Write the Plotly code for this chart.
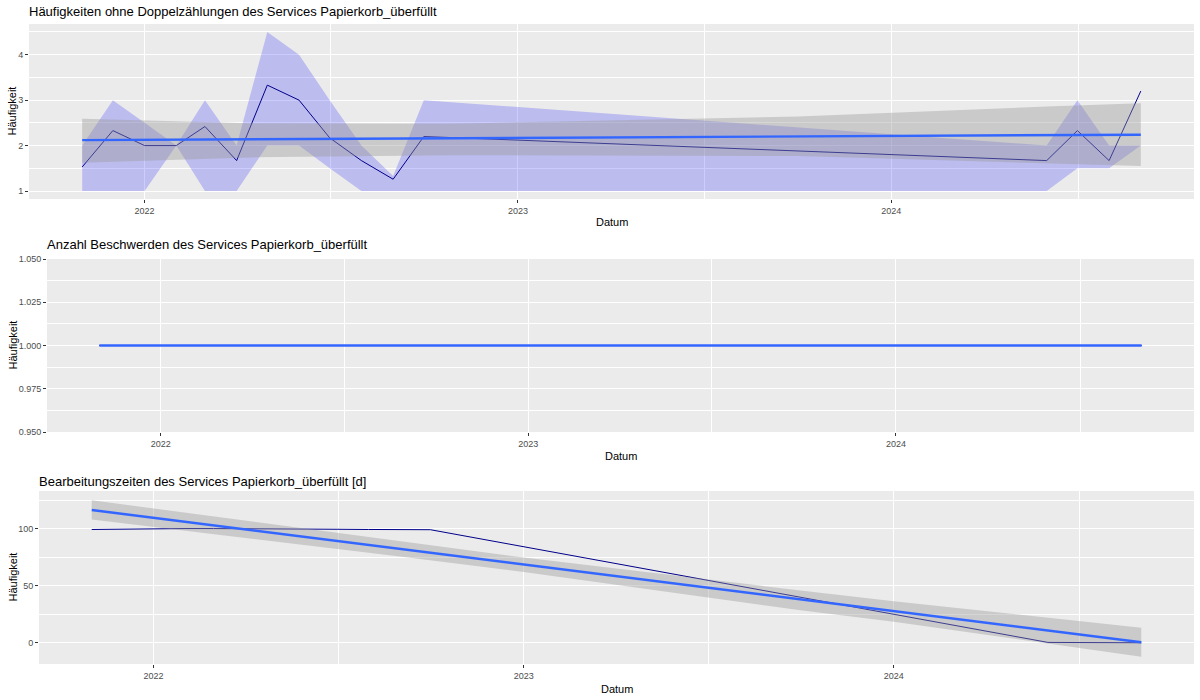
import plotly.graph_objects as go

# ---------------- data ----------------
months = ["2021-11-01", "2021-12-01", "2022-01-01", "2022-02-01", "2022-03-01",
          "2022-04-01", "2022-05-01", "2022-06-01", "2022-07-01", "2022-08-01",
          "2022-09-01", "2022-10-01", "2024-06-01", "2024-07-01", "2024-08-01",
          "2024-09-01"]

# Panel 1: Häufigkeiten ohne Doppelzählungen
freq_mean = [1.53, 2.33, 2.0, 2.0, 2.42, 1.67, 3.33, 3.0, 2.17, 1.67, 1.26, 2.2,
             1.67, 2.33, 1.67, 3.2]
freq_low = [1.0, 1.0, 1.0, 2.0, 1.0, 1.0, 2.0, 2.0, 1.5, 1.0, 1.0, 1.0,
            1.0, 1.5, 1.5, 2.0]
freq_high = [2.0, 3.0, 2.5, 2.0, 3.0, 2.0, 4.5, 4.0, 3.0, 2.0, 1.33, 3.0,
             2.0, 3.0, 2.0, 2.0]
# lm smooth
smooth1_dates = ["2021-11-01", "2022-04-14", "2022-10-27", "2023-10-02", "2024-06-01", "2024-09-01"]
smooth1_fit = [2.12, 2.14, 2.16, 2.21, 2.23, 2.24]
smooth1_low = [1.62, 1.74, 1.79, 1.77, 1.61, 1.55]
smooth1_high = [2.59, 2.49, 2.48, 2.64, 2.86, 2.93]

# Panel 2: Anzahl Beschwerden
count_vals = [1] * len(months)
smooth2_dates = ["2021-11-01", "2024-09-01"]
smooth2_fit = [1.0, 1.0]

# Panel 3: Bearbeitungszeiten [d]
time_vals = [99.2, 99.6, 100, 100, 100, 100, 99.8, 99.6, 99.4, 99.2, 99.1, 99.0,
             0.3, 0.2, 0.1, 0.0]
smooth3_dates = ["2021-11-01", "2022-09-01", "2023-01-01", "2023-10-01", "2024-01-01", "2024-09-01"]
smooth3_fit = [116.3, 82.2, 68.4, 37.5, 27.4, 0.4]
smooth3_low = [108.0, 75.5, 62.0, 28.5, 18.4, -12.2]
smooth3_high = [124.8, 88.8, 74.6, 45.8, 36.4, 13.1]

year_ticks = ["2022-01-01", "2023-01-01", "2024-01-01"]
year_labels = ["2022", "2023", "2024"]
year_minor = ["2022-07-02", "2023-07-02", "2024-07-02"]
x_range = ["2021-09-10", "2024-10-23"]

titles = ["Häufigkeiten ohne Doppelzählungen des Services Papierkorb_überfüllt",
          "Anzahl Beschwerden des Services Papierkorb_überfüllt",
          "Bearbeitungszeiten des Services Papierkorb_überfüllt [d]"]

# ---------------- styling ----------------
W, H = 1200, 700
FONT = "Liberation Sans, Arial, sans-serif"
BG = "#EBEBEB"
RIBBON = "rgba(0,0,255,0.2)"
SE_FILL = "rgba(153,153,153,0.4)"
SMOOTH = "#3366FF"
DARK = "#00008B"

# panel boxes in pixels: left, right, top, bottom
panels = [(29, 1194, 24, 199), (47, 1194, 259, 432), (39, 1194, 491, 664)]
title_y = [12, 245, 481]
xtitle_y = [222, 456, 689]

fig = go.Figure()


def band(xs, lo, hi, color, xa, ya):
    fig.add_trace(go.Scatter(x=list(xs) + list(xs)[::-1], y=list(hi) + list(lo)[::-1],
                             fill="toself", fillcolor=color, line=dict(width=0),
                             mode="lines", hoverinfo="skip", showlegend=False,
                             xaxis=xa, yaxis=ya))


# Panel 1
band(months, freq_low, freq_high, RIBBON, "x", "y")
fig.add_trace(go.Scatter(x=months, y=freq_mean, mode="lines", line=dict(color=DARK, width=1),
                         showlegend=False, xaxis="x", yaxis="y"))
band(smooth1_dates, smooth1_low, smooth1_high, SE_FILL, "x", "y")
fig.add_trace(go.Scatter(x=smooth1_dates, y=smooth1_fit, mode="lines",
                         line=dict(color=SMOOTH, width=2.4), showlegend=False,
                         xaxis="x", yaxis="y"))

# Panel 2
fig.add_trace(go.Scatter(x=months, y=count_vals, mode="lines", line=dict(color=DARK, width=1),
                         showlegend=False, xaxis="x2", yaxis="y2"))
fig.add_trace(go.Scatter(x=smooth2_dates, y=smooth2_fit, mode="lines",
                         line=dict(color=SMOOTH, width=2.4), showlegend=False,
                         xaxis="x2", yaxis="y2"))

# Panel 3
fig.add_trace(go.Scatter(x=months, y=time_vals, mode="lines", line=dict(color=DARK, width=1),
                         showlegend=False, xaxis="x3", yaxis="y3"))
band(smooth3_dates, smooth3_low, smooth3_high, SE_FILL, "x3", "y3")
fig.add_trace(go.Scatter(x=smooth3_dates, y=smooth3_fit, mode="lines",
                         line=dict(color=SMOOTH, width=2.4), showlegend=False,
                         xaxis="x3", yaxis="y3"))

tickfont = dict(family=FONT, size=9, color="#4D4D4D")

y_specs = [
    dict(range=[0.825, 4.675], tickvals=[1, 2, 3, 4], ticktext=["1", "2", "3", "4"],
         minor=[1.5, 2.5, 3.5, 4.5]),
    dict(range=[0.95, 1.05], tickvals=[0.95, 0.975, 1.0, 1.025, 1.05],
         ticktext=["0.950", "0.975", "1.000", "1.025", "1.050"],
         minor=[0.9625, 0.9875, 1.0125, 1.0375]),
    dict(range=[-18.6, 132.9], tickvals=[0, 50, 100], ticktext=["0", "50", "100"],
         minor=[25, 75, 125]),
]

layout = dict(width=W, height=H, margin=dict(l=0, r=0, t=0, b=0, pad=0, autoexpand=False),
              paper_bgcolor="white", plot_bgcolor=BG, showlegend=False)
annotations = []
for i, (l, r, t, b) in enumerate(panels):
    sfx = "" if i == 0 else str(i + 1)
    xd = [l / W, r / W]
    yd = [1 - b / H, 1 - t / H]
    ys = y_specs[i]
    layout["xaxis" + sfx] = dict(
        domain=xd, anchor="y" + sfx, type="date", range=x_range, automargin=False,
        tickmode="array", tickvals=year_ticks, ticktext=year_labels,
        showgrid=True, gridcolor="white", gridwidth=1.1, zeroline=False,
        ticks="outside", ticklen=3, tickwidth=1, tickcolor="#333333",
        tickfont=tickfont, showline=False,
        minor=dict(tickmode="array", tickvals=year_minor, showgrid=True,
                   gridcolor="white", gridwidth=0.55, ticks=""),
    )
    layout["yaxis" + sfx] = dict(
        domain=yd, anchor="x" + sfx, range=ys["range"], automargin=False,
        tickmode="array", tickvals=ys["tickvals"], ticktext=ys["ticktext"],
        showgrid=True, gridcolor="white", gridwidth=1.1, zeroline=False,
        ticks="outside", ticklen=3, tickwidth=1, tickcolor="#333333",
        tickfont=tickfont, showline=False,
        minor=dict(tickmode="array", tickvals=ys["minor"], showgrid=True,
                   gridcolor="white", gridwidth=0.55, ticks=""),
    )
    # title
    annotations.append(dict(text=titles[i], xref="paper", yref="paper",
                            x=(l - 2) / W, y=1 - title_y[i] / H, xanchor="left", yanchor="middle",
                            showarrow=False, font=dict(family=FONT, size=13, color="black")))
    # x axis title
    annotations.append(dict(text="Datum", xref="paper", yref="paper",
                            x=(l + r) / 2 / W, y=1 - xtitle_y[i] / H, xanchor="center",
                            yanchor="middle", showarrow=False,
                            font=dict(family=FONT, size=11, color="black")))
    # y axis title
    annotations.append(dict(text="Häufigkeit", xref="paper", yref="paper",
                            x=12 / W, y=1 - (t + b) / 2 / H, xanchor="center",
                            yanchor="middle", textangle=-90, showarrow=False,
                            font=dict(family=FONT, size=11, color="black")))

layout["annotations"] = annotations
fig.update_layout(**layout)
fig.write_html("out.html")
